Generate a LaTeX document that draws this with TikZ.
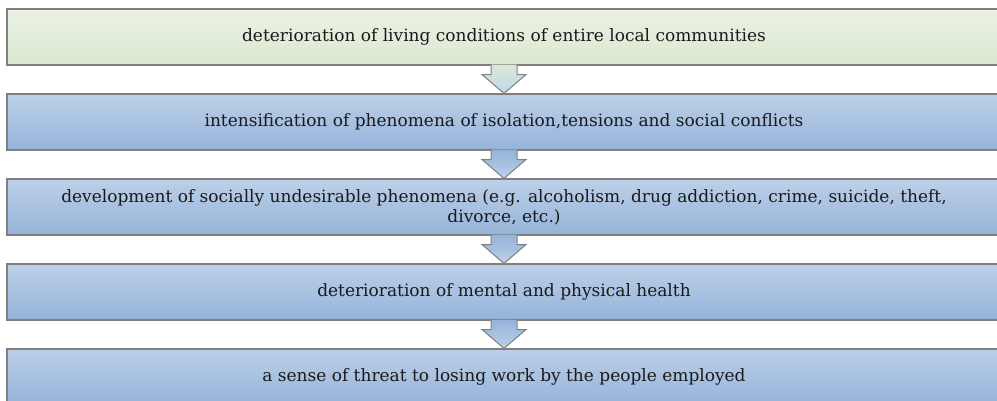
\documentclass[tikz,border=0pt]{standalone}
\usepackage{fontspec}
\setmainfont{DejaVu Serif}
\usepackage{tikz}
\usetikzlibrary{calc}

\definecolor{boxgreen}{HTML}{DCE8D2}
\definecolor{boxtop}{HTML}{BCD0E8}
\definecolor{boxbottom}{HTML}{95B3D9}
\definecolor{arrowblue}{HTML}{BDD7EE}
\definecolor{edgegray}{HTML}{7F7F7F}
\definecolor{textdark}{HTML}{1A1A1A}

\tikzset{
	box/.style={draw=edgegray, line width=1.1pt, minimum width=994pt, minimum height=56pt, inner sep=0pt, align=center, text=textdark, font=\fontsize{17}{20}\selectfont, top color=boxtop, bottom color=boxbottom},
	greenbox/.style={box, top color=boxgreen!60!white, bottom color=boxgreen},
	flow/.style={draw=edgegray, line width=1pt},
}

\begin{document}
\begin{tikzpicture}
		\useasboundingbox (0,0) rectangle (997pt,-401pt);

		\node[greenbox] (b1) at (504pt,-37pt) {deterioration of living conditions of entire local communities};
		\node[box] (b2) at (504pt,-122pt) {intensification of phenomena of isolation,tensions and social conflicts};
		\node[box] (b3) at (504pt,-207pt) {development of socially undesirable phenomena (e.g. alcoholism, drug addiction, crime, suicide, theft,\\divorce, etc.)};
		\node[box] (b4) at (504pt,-292pt) {deterioration of mental and physical health};
		\node[box] (b5) at (504pt,-377pt) {a sense of threat to losing work by the people employed};

		\foreach \a/\b/\ctop/\cbot in {b1/b2/boxgreen/arrowblue, b2/b3/boxbottom/boxtop, b3/b4/boxbottom/boxtop, b4/b5/boxbottom/boxtop}
			\shadedraw[flow, top color=\ctop, bottom color=\cbot] ($(\a.south)+(-13pt,0.8pt)$) -- ($(\a.south)+(-13pt,-9pt)$) -- ($(\a.south)+(-22pt,-9pt)$) -- (\b.north) -- ($(\a.south)+(22pt,-9pt)$) -- ($(\a.south)+(13pt,-9pt)$) -- ($(\a.south)+(13pt,0.8pt)$);
	\end{tikzpicture}
\end{document}
